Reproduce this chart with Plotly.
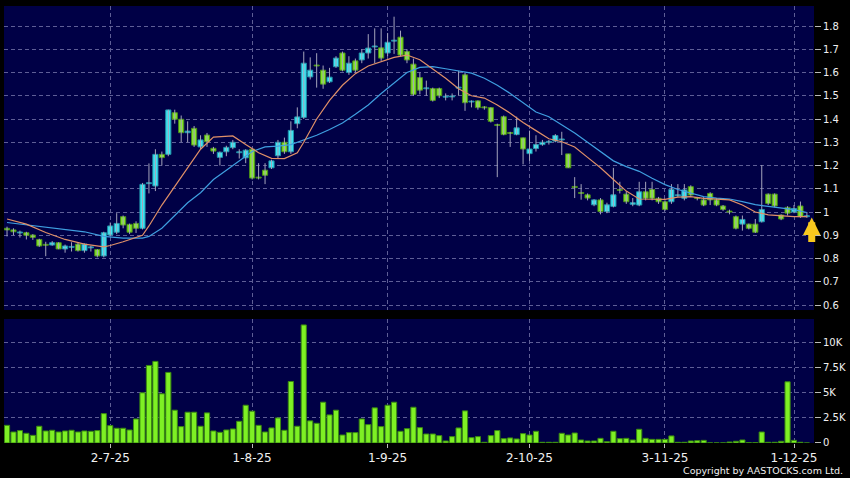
import plotly.graph_objects as go
import pandas as pd

# trading days on the chart
holidays = ['2025-07-01', '2025-10-01', '2025-10-29']
days = [d.strftime('%Y-%m-%d') for d in pd.bdate_range('2025-06-09', '2025-12-03')
        if d.strftime('%Y-%m-%d') not in holidays]

tick_dates = ['2025-07-02', '2025-08-01', '2025-09-01', '2025-10-02', '2025-11-03', '2025-12-01']
tick_text = ['2-7-25', '1-8-25', '1-9-25', '2-10-25', '3-11-25', '1-12-25']

open_ = [0.930, 0.923, 0.910, 0.911, 0.901, 0.882, 0.860, 0.858, 0.868, 0.841,
         0.848, 0.862, 0.834, 0.846, 0.839, 0.811, 0.901, 0.913, 0.980, 0.947,
         0.951, 0.930, 1.122, 1.112, 1.248, 1.248, 1.427, 1.399, 1.341, 1.360,
         1.280, 1.331, 1.274, 1.235, 1.259, 1.277, 1.255, 1.233, 1.270, 1.148,
         1.180, 1.190, 1.242, 1.300, 1.259, 1.380, 1.407, 1.581, 1.630, 1.610,
         1.560, 1.625, 1.684, 1.600, 1.650, 1.654, 1.684, 1.710, 1.706, 1.684,
         1.735, 1.752, 1.690, 1.636, 1.578, 1.530, 1.531, 1.531, 1.494, 1.495,
         1.533, 1.590, 1.473, 1.478, 1.450, 1.449, 1.376, 1.410, 1.340, 1.333,
         1.319, 1.251, 1.273, 1.290, 1.300, 1.305, 1.310, 1.250, 1.110, 1.082,
         1.074, 1.031, 1.052, 1.002, 1.024, 1.097, 1.077, 1.033, 1.030, 1.087,
         1.097, 1.059, 1.044, 1.044, 1.070, 1.059, 1.109, 1.060, 1.052, 1.080,
         1.052, 1.026, 1.001, 0.980, 0.948, 0.948, 0.948, 0.958, 1.077, 1.077,
         0.987, 1.020, 1.000, 1.026, 0.980]
high = [0.937, 0.930, 0.920, 0.915, 0.905, 0.885, 0.872, 0.875, 0.870, 0.860,
        0.870, 0.870, 0.865, 0.855, 0.840, 0.915, 0.955, 0.995, 0.985, 0.950,
        0.960, 1.125, 1.209, 1.270, 1.260, 1.440, 1.440, 1.415, 1.390, 1.370,
        1.330, 1.340, 1.280, 1.260, 1.285, 1.310, 1.270, 1.270, 1.275, 1.210,
        1.210, 1.225, 1.310, 1.320, 1.390, 1.450, 1.690, 1.665, 1.683, 1.630,
        1.620, 1.670, 1.690, 1.670, 1.660, 1.700, 1.765, 1.790, 1.790, 1.770,
        1.840, 1.780, 1.700, 1.660, 1.600, 1.565, 1.535, 1.535, 1.510, 1.510,
        1.607, 1.600, 1.480, 1.480, 1.455, 1.450, 1.380, 1.415, 1.345, 1.410,
        1.320, 1.350, 1.330, 1.310, 1.310, 1.335, 1.345, 1.250, 1.150, 1.120,
        1.080, 1.055, 1.060, 1.040, 1.190, 1.130, 1.090, 1.060, 1.130, 1.130,
        1.130, 1.065, 1.050, 1.120, 1.120, 1.120, 1.115, 1.065, 1.065, 1.085,
        1.060, 1.030, 1.010, 0.985, 0.985, 0.950, 0.970, 1.202, 1.080, 1.080,
        0.990, 1.025, 1.030, 1.045, 1.000]
low = [0.895, 0.900, 0.890, 0.882, 0.880, 0.850, 0.810, 0.855, 0.840, 0.825,
       0.830, 0.830, 0.825, 0.830, 0.805, 0.805, 0.895, 0.905, 0.930, 0.905,
       0.910, 0.925, 1.080, 1.090, 1.200, 1.240, 1.380, 1.300, 1.300, 1.280,
       1.270, 1.280, 1.250, 1.200, 1.240, 1.270, 1.230, 1.210, 1.140, 1.140,
       1.120, 1.185, 1.230, 1.250, 1.250, 1.360, 1.400, 1.570, 1.535, 1.530,
       1.555, 1.620, 1.605, 1.590, 1.600, 1.640, 1.660, 1.640, 1.650, 1.670,
       1.680, 1.670, 1.640, 1.500, 1.506, 1.500, 1.475, 1.490, 1.480, 1.480,
       1.500, 1.435, 1.450, 1.440, 1.440, 1.385, 1.150, 1.330, 1.280, 1.330,
       1.205, 1.220, 1.260, 1.285, 1.290, 1.300, 1.245, 1.190, 1.060, 1.053,
       1.050, 1.025, 0.990, 0.995, 1.020, 1.080, 1.035, 1.025, 1.025, 1.050,
       1.050, 1.035, 1.005, 1.035, 1.065, 1.050, 1.070, 1.050, 1.025, 1.030,
       1.025, 1.005, 0.990, 0.925, 0.920, 0.925, 0.910, 0.955, 1.030, 1.020,
       0.965, 0.985, 0.995, 0.975, 0.975]
close = [0.923, 0.915, 0.910, 0.900, 0.891, 0.854, 0.857, 0.868, 0.841, 0.854,
         0.848, 0.834, 0.862, 0.846, 0.811, 0.911, 0.940, 0.951, 0.944, 0.913,
         0.930, 1.119, 1.126, 1.248, 1.234, 1.439, 1.399, 1.341, 1.348, 1.288,
         1.310, 1.302, 1.262, 1.257, 1.278, 1.300, 1.255, 1.266, 1.146, 1.146,
         1.158, 1.220, 1.300, 1.259, 1.351, 1.409, 1.640, 1.610, 1.628, 1.550,
         1.580, 1.662, 1.610, 1.640, 1.610, 1.684, 1.705, 1.712, 1.662, 1.730,
         1.738, 1.675, 1.654, 1.506, 1.524, 1.530, 1.480, 1.500, 1.497, 1.497,
         1.537, 1.470, 1.477, 1.449, 1.448, 1.390, 1.372, 1.333, 1.338, 1.362,
         1.271, 1.271, 1.290, 1.300, 1.300, 1.329, 1.310, 1.190, 1.105, 1.080,
         1.060, 1.052, 1.002, 1.031, 1.074, 1.093, 1.044, 1.040, 1.087, 1.059,
         1.059, 1.044, 1.011, 1.097, 1.070, 1.095, 1.073, 1.058, 1.030, 1.052,
         1.030, 1.011, 1.000, 0.930, 0.968, 0.930, 0.913, 1.011, 1.037, 1.026,
         0.970, 0.995, 1.015, 0.980, 0.980]

volume = [1750, 1090, 1230, 960, 760, 1660, 1190, 1260, 1090, 1190,
          1260, 1090, 1190, 1160, 1230, 2910, 1720, 1460, 1460, 1290,
          2380, 4970, 7680, 8080, 4870, 6990, 3250, 1620, 3050, 3050,
          1660, 2980, 1190, 1060, 1290, 1390, 2150, 3740, 3150, 1750,
          1090, 1490, 2480, 1260, 6090, 1660, 11690, 2190, 1950, 4040,
          2780, 3250, 790, 1030, 1030, 2380, 1820, 3480, 1620, 3740,
          4040, 1160, 1420, 3540, 1520, 890, 890, 730, 200, 630,
          1490, 3180, 530, 630, 70, 730, 1230, 430, 500, 400,
          930, 790, 1160, 70, 70, 70, 960, 790, 990, 300,
          200, 200, 460, 130, 1160, 430, 460, 300, 1360, 460,
          360, 360, 360, 700, 70, 70, 200, 230, 260, 10,
          10, 10, 100, 170, 300, 30, 30, 1090, 70, 70,
          170, 6060, 260, 70, 0]

# moving averages (bar index, value)
ma_short_idx = [0, 3, 6, 9, 12, 15, 16, 18, 21, 22, 24, 26, 28, 30, 32, 35, 37, 39, 41, 43,
                45, 46, 48, 50, 52, 54, 56, 58, 60, 62, 64, 66, 68, 70, 72, 74, 76, 78, 80, 82,
                84, 86, 88, 90, 92, 94, 96, 98, 100, 102, 104, 106, 108, 110, 112, 114, 116,
                118, 120, 122, 124]
ma_short = [0.97, 0.948, 0.912, 0.882, 0.862, 0.85, 0.856, 0.872, 0.90, 0.94,
            1.03, 1.11, 1.19, 1.27, 1.322, 1.327, 1.29, 1.255, 1.231, 1.23,
            1.255, 1.30, 1.40, 1.48, 1.545, 1.595, 1.628, 1.645, 1.665, 1.675,
            1.655, 1.615, 1.575, 1.53, 1.50, 1.49, 1.46, 1.425, 1.385, 1.35,
            1.315, 1.302, 1.28, 1.235, 1.19, 1.14, 1.09, 1.056, 1.054, 1.054,
            1.064, 1.066, 1.059, 1.057, 1.052, 1.03, 1.0, 0.988, 0.984, 0.98, 0.98]
ma_long_idx = [0, 3, 6, 9, 12, 15, 18, 21, 22, 24, 26, 28, 30, 32, 34, 36, 38, 40, 42, 44,
               46, 48, 50, 52, 54, 56, 58, 60, 62, 64, 66, 68, 70, 72, 74, 76, 78, 80, 82, 84,
               86, 88, 90, 92, 94, 96, 98, 100, 102, 104, 106, 108, 110, 112, 114, 116, 118,
               120, 122, 124]
ma_long = [0.955, 0.945, 0.936, 0.928, 0.915, 0.895, 0.888, 0.888, 0.895, 0.93,
           0.985, 1.04, 1.083, 1.14, 1.18, 1.22, 1.26, 1.28, 1.283, 1.29,
           1.31, 1.33, 1.355, 1.383, 1.42, 1.46, 1.51, 1.555, 1.6, 1.622,
           1.625, 1.616, 1.608, 1.597, 1.575, 1.545, 1.51, 1.47, 1.43, 1.41,
           1.375, 1.34, 1.3, 1.26, 1.22, 1.195, 1.175, 1.145, 1.118, 1.097,
           1.08, 1.066, 1.06, 1.056, 1.045, 1.032, 1.024, 1.018, 1.01, 0.998]

price_ticks = [0.6, 0.7, 0.8, 0.9, 1.0, 1.1, 1.2, 1.3, 1.4, 1.5, 1.6, 1.7, 1.8]
price_tick_text = ['0.6', '0.7', '0.8', '0.9', '1', '1.1', '1.2', '1.3', '1.4', '1.5', '1.6', '1.7', '1.8']
vol_ticks = [0, 2500, 5000, 7500, 10000]
vol_tick_text = ['0', '2.5K', '5K', '7.5K', '10K']

UP_FILL, UP_LINE = '#3ce6f2', '#2090a8'
DN_FILL, DN_LINE = '#84e62a', '#4a8e1a'
GRID = '#5e5e96'

x = list(range(len(days)))
tickvals = [days.index(d) for d in tick_dates]

fig = go.Figure()

# wicks
wx, wy = [], []
for i in x:
    wx += [i, i, None]
    wy += [low[i], high[i], None]
fig.add_trace(go.Scatter(x=wx, y=wy, mode='lines', line=dict(color='#a4a4bc', width=1),
                         hoverinfo='skip', xaxis='x', yaxis='y'))

# bodies
base = [min(o, c) for o, c in zip(open_, close)]
height = [max(abs(c - o), 0.004) for o, c in zip(open_, close)]
up = [c >= o for o, c in zip(open_, close)]
fig.add_trace(go.Bar(x=x, y=height, base=base, width=0.8,
                     marker=dict(color=[UP_FILL if u else DN_FILL for u in up],
                                 line=dict(color=[UP_LINE if u else DN_LINE for u in up], width=1)),
                     xaxis='x', yaxis='y'))

# moving averages
fig.add_trace(go.Scatter(x=ma_long_idx, y=ma_long, mode='lines',
                         line=dict(color='#3f9fe0', width=1.2), xaxis='x', yaxis='y'))
fig.add_trace(go.Scatter(x=ma_short_idx, y=ma_short, mode='lines',
                         line=dict(color='#e09068', width=1.2), xaxis='x', yaxis='y'))

# volume
fig.add_trace(go.Bar(x=x, y=volume, width=0.8,
                     marker=dict(color='#7ef024', line=dict(color='#3a8a10', width=1)),
                     xaxis='x2', yaxis='y2'))

xr = [-0.47, 125.1]
fig.update_layout(
    width=850, height=478,
    paper_bgcolor='black', plot_bgcolor='#000046',
    margin=dict(l=4, r=36, t=6, b=35),
    showlegend=False, barmode='overlay',
    font=dict(family='DejaVu Sans', color='#f0f0f0'),
    xaxis=dict(domain=[0, 1], range=xr, anchor='y', tickvals=tickvals, showticklabels=False,
               showgrid=True, gridcolor=GRID, griddash='4px,3px', gridwidth=1, zeroline=False,
               ticks=''),
    xaxis2=dict(domain=[0, 1], range=xr, anchor='y2', matches='x', tickvals=tickvals,
                ticktext=tick_text, showgrid=True, gridcolor=GRID, griddash='4px,3px',
                zeroline=False, ticks='outside', ticklen=4, tickcolor='#bbbbbb',
                tickfont=dict(size=12, color='#f0f0f0')),
    yaxis=dict(domain=[0.3043, 1], range=[0.5785, 1.886], side='right', anchor='x',
               tickvals=price_ticks, ticktext=price_tick_text, showgrid=True, gridcolor=GRID,
               griddash='4px,3px', zeroline=False, ticks='outside', ticklen=6,
               tickcolor='#bbbbbb', tickfont=dict(size=10, color='#f0f0f0')),
    yaxis2=dict(domain=[0, 0.2838], range=[0, 12280], side='right', anchor='x2',
                tickvals=vol_ticks, ticktext=vol_tick_text, showgrid=True, gridcolor=GRID,
                griddash='4px,3px', zeroline=False, ticks='outside', ticklen=6,
                tickcolor='#bbbbbb', tickfont=dict(size=10, color='#f0f0f0')),
)

# last price marker
fig.add_annotation(x=124.75, y=close[-1] - 0.004, xref='x', yref='y', text='', showarrow=True,
                   arrowhead=2, arrowsize=0.5, arrowwidth=7, arrowcolor='#f7c81e',
                   ax=0, ay=26, standoff=0)

fig.add_annotation(x=1.038, y=-0.062, xref='paper', yref='paper', xanchor='right', yanchor='middle',
                   text='Copyright by AASTOCKS.com Ltd.', showarrow=False,
                   font=dict(size=9.5, color='#f0f0f0'))

# page body has a default margin; remove it so the figure sits at the window corner
fig.write_html('out.html', config={'displayModeBar': False},
               post_script="document.body.style.margin='0';")
